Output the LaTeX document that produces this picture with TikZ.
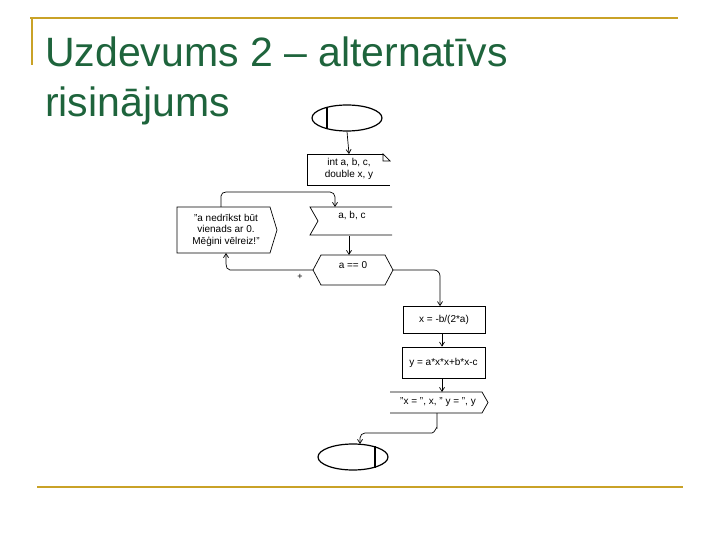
\documentclass[tikz,border=0pt]{standalone}
\usepackage{fontspec}
\setmainfont{Liberation Sans}
\usetikzlibrary{shapes.geometric,arrows.meta}
\definecolor{gold}{RGB}{201,162,39}
\definecolor{tgreen}{RGB}{30,100,60}
\begin{document}
\begin{tikzpicture}[x=1pt,y=-1pt,
  ln/.style={draw=black,line width=0.7pt},
  arr/.style={ln,-{Straight Barb[length=4pt,width=5pt]}},
  txt/.style={font=\fontsize{10}{11.5}\selectfont,align=center,inner sep=0pt},
  term/.style={ellipse,draw,line width=1.2pt,minimum width=70pt,minimum height=26pt,inner sep=0pt}]
\useasboundingbox (0,0) rectangle (720,540);
\draw[gold,line width=2.5pt] (30,18) -- (678,18);
\draw[gold,line width=2.5pt] (32,18) -- (32,65);
\draw[gold,line width=2.5pt] (37,487) -- (683,487);
\node[anchor=base west,text=tgreen,font=\fontsize{41}{46}\selectfont,inner sep=0pt] (t1) at (45,67) {Uzdevums 2 – alternatīvs};
\node[anchor=base west,text=tgreen,font=\fontsize{41}{46}\selectfont,inner sep=0pt] (t2) at (45,117) {risinājums};
% start
\node[term] (start) at (347,118) {};
\draw[line width=1.2pt] (327,107) -- (327,129);
% declaration
\draw[ln] (383,154) -- (307,154) -- (307,185) -- (390,185);
\draw[ln] (383,154) -- (390,161) -- (383,161) -- cycle;
\node[txt] (decl) at (349,169) {int a, b, c,\\double x, y};
\draw[arr] (start.south) -- (349,154);
% input
\draw[ln] (392,207) -- (310,207) -- (318,221) -- (310,235) -- (392,235);
\node[txt] (inp) at (352,216) {a, b, c};
\coordinate (inTop) at (335,207);
% decision
\draw[ln] (313,270) -- (321,255) -- (385,255) -- (393,270) -- (385,285) -- (321,285) -- cycle;
\node[txt] (dec) at (353,265) {a == 0};
\draw[arr] (349,236) -- (349,255);
\node[font=\fontsize{9}{10}\selectfont] (plus) at (300,277) {+};
% message
\draw[ln] (177,207) -- (270,207) -- (277,230) -- (270,253) -- (177,253) -- cycle;
\node[txt] (msg) at (226,230) {"a nedrīkst būt\\vienads ar 0.\\Mēģini vēlreiz!"};
\draw[arr] (313,270) -- (230,270) to[out=180,in=-90] (226,264) -- (226,253);
\draw[arr] (221,207) -- (221,196) to[out=90,in=180] (226,192) -- (330,192) to[out=0,in=90] (335,197) -- (inTop);
% right branch
\node[draw,line width=0.7pt,minimum width=82pt,minimum height=27pt,txt] (b1) at (444,320) {x = -b/(2*a)};
\node[draw,line width=0.7pt,minimum width=83pt,minimum height=31pt,txt] (b2) at (443.5,362.5) {y = a*x*x+b*x-c};
\draw[arr] (393,270) -- (434,270) to[out=0,in=90] (440,276) -- (b1.north -| 440,0);
\draw[arr] (b1.south -| 442,0) -- (b2.north -| 442,0);
\draw[ln] (390,392) -- (482,392) -- (488,402.5) -- (482,413) -- (390,413);
\node[txt] (out) at (438,402.5) {"x = ", x, " y = ", y};
\draw[arr] (b2.south -| 442,0) -- (442,392);
% end
\node[term] (end) at (353,457) {};
\draw[line width=1.2pt] (375,446) -- (375,468);
\draw[arr] (437,413) -- (437,428) to[out=90,in=0] (432,433) -- (365,433) to[out=180,in=90] (360,438) -- (360,444);
\end{tikzpicture}
\end{document}
